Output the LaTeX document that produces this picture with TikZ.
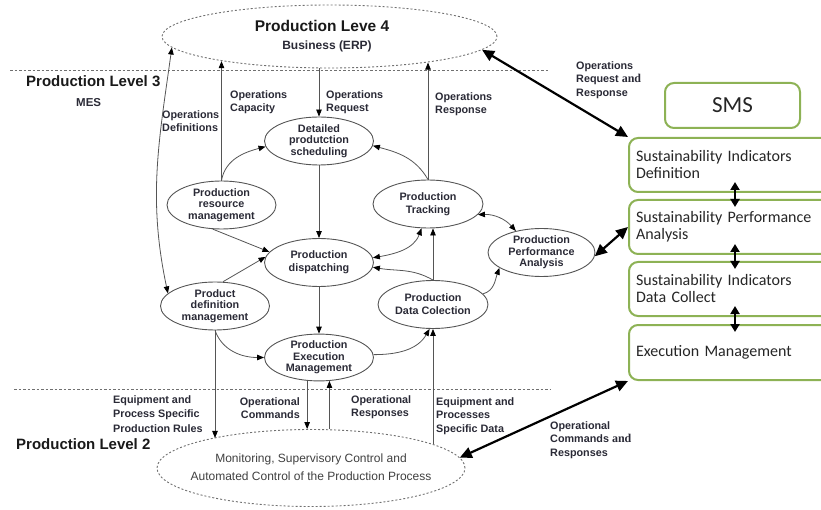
\documentclass[tikz,border=0pt]{standalone}
\usepackage{fontspec}
\setmainfont{Liberation Sans}
\newfontfamily\calfont{Carlito}
\newfontfamily\tmsfont{Liberation Serif}
\usetikzlibrary{shapes.geometric,arrows.meta,calc}
\definecolor{txt}{HTML}{2A2A36}
\definecolor{linec}{HTML}{555555}
\definecolor{dotc}{HTML}{707070}
\definecolor{smsgreen}{HTML}{8DB255}
\tikzset{
  ell/.style={ellipse, draw=linec, line width=0.9pt, inner sep=0pt, align=center, text=txt,
    font=\bfseries\fontsize{10.8}{11.5}\selectfont, minimum width=109pt, minimum height=48pt},
  twoline/.style={font=\bfseries\fontsize{10.8}{13}\selectfont},
  dell/.style={ellipse, draw=dotc, line width=0.9pt, dash pattern=on 2pt off 2pt, inner sep=0pt},
  lab/.style={anchor=north west, inner sep=0pt, align=left, text=txt,
    font=\bfseries\fontsize{10.8}{13.5}\selectfont},
  lvl/.style={anchor=base west, inner sep=0pt, text=black!90, font=\bfseries\fontsize{15}{16}\selectfont},
  arr/.style={draw=linec, line width=0.8pt, -{Triangle[length=7pt,width=5.5pt,color=black]}},
  darr/.style={draw=linec, line width=0.8pt, {Triangle[length=7pt,width=5.5pt,color=black]}-{Triangle[length=7pt,width=5.5pt,color=black]}},
  bigarr/.style={draw=black, line width=2.2pt, {Triangle[length=12pt,width=11pt]}-{Triangle[length=12pt,width=11pt]}},
  sarr/.style={draw=black, line width=2.2pt, {Triangle[length=8pt,width=9pt]}-{Triangle[length=8pt,width=9pt]}},
  gbox/.style={draw=smsgreen, line width=2pt, rounded corners=9pt, fill=white},
  sbox/.style={gbox, text width=220pt, inner sep=7pt, align=left, minimum height=54pt, text=black!85,
    font=\calfont\fontsize{16}{17}\selectfont},
  sepline/.style={draw=dotc, line width=0.9pt, dash pattern=on 2.5pt off 2pt},
}
\begin{document}
\begin{tikzpicture}[x=1pt,y=-1pt]
\useasboundingbox (0,0) rectangle (821,510);
\clip (0,0) rectangle (821,510);

% level separators
\coordinate (s1a) at (10,70.5);
\coordinate (s1b) at (548,70.5);
\coordinate (s2a) at (14,389);
\coordinate (s2b) at (550,389);
\draw[sepline] (s1a) -- (s1b);
\draw[sepline] (s2a) -- (s2b);

% level 4 and level 2 ellipses
\node[dell, minimum width=335pt, minimum height=63pt] (erp) at (329.5,36.5) {};
\node[anchor=base, inner sep=0pt, text=black!90, font=\bfseries\fontsize{15.5}{16}\selectfont] (erpt) at (322,32) {Production Leve 4};
\node[anchor=base, inner sep=0pt, text=txt, font=\bfseries\fontsize{12}{13}\selectfont] (erps) at (327,50) {Business (ERP)};

\node[dell, minimum width=308pt, minimum height=77pt] (lvl2) at (311,468) {};
\node[align=center, inner sep=0pt, text=black!75, font=\fontsize{12}{17.5}\selectfont] (lvl2t) at (311,467)
  {Monitoring, Supervisory Control and\\Automated Control of the Production Process};

% level titles
\node[lvl] (l3) at (26,87) {Production Level 3};
\node[lvl, font=\bfseries\fontsize{11.5}{12}\selectfont, text=txt] (mes) at (76,107) {MES};
\node[lvl] (l2) at (16,449) {Production Level 2};

% activity ellipses
\node[ell] (sched) at (319,141) {Detailed\\produtction\\scheduling};
\node[ell] (res) at (221.5,205) {Production\\resource\\management};
\node[ell, twoline, minimum width=110pt] (track) at (428,204) {Production\\Tracking};
\node[ell, twoline] (disp) at (319,262.5) {Production\\dispatching};
\node[ell, minimum width=107pt] (perf) at (541.5,252.5) {Production\\Performance\\Analysis};
\node[ell] (pdef) at (215,306) {Product\\definition\\management};
\node[ell, twoline, minimum width=110pt] (dcol) at (433,304.5) {Production\\Data Colection};
\node[ell, minimum height=45pt] (exec) at (319,357.5) {Production\\Execution\\Management};

% SMS boxes
\node[gbox, minimum width=135pt, minimum height=45pt, text=black!85, font=\calfont\fontsize{23}{25}\selectfont] (sms) at (732.5,105.5) {SMS};
\node[sbox] (b1) at (746,165) {Sustainability Indicators\\Definition};
\node[sbox] (b2) at (746,227) {Sustainability Performance\\Analysis};
\node[sbox] (b3) at (746,289) {Sustainability Indicators\\Data Collect};
\node[sbox, minimum height=55pt] (b4) at (746,352.5) {Execution Management};

% labels
\node[lab] (lOR) at (326,90) {Operations\\Request};
\node[lab] (lOC) at (230,90) {Operations\\Capacity};
\node[lab] (lOD) at (162,110) {Operations\\Definitions};
\node[lab] (lORs) at (435,92) {Operations\\Response};
\node[lab] (lORR) at (576,61) {Operations\\Request {\tmsfont\bfseries\fontsize{12}{13}\selectfont and}\\Response};
\node[lab, font=\bfseries\fontsize{10.8}{14.5}\selectfont] (lEq) at (113,395) {Equipment and\\Process Specific\\Production Rules};
\node[lab, anchor=north east, align=right] (lOCm) at (300,397) {Operational\\Commands};
\node[lab] (lOpR) at (351,395) {Operational\\Responses};
\node[lab] (lEqD) at (436,397) {Equipment and\\Processes\\Specific Data};
\node[lab] (lOCR) at (550,421) {Operational\\Commands {\tmsfont\bfseries\fontsize{12}{13}\selectfont and}\\Responses};

% connectors level 4
\draw[arr] (sched.north |- erp.south) -- (sched.north);
\draw[arr] (res.north) -- (res.north |- erp.193);
\draw[arr] (track.north) -- (track.north |- erp.345);
\draw[darr] (erp.184) to[out=-98,in=102] (pdef.165);

% internal connectors
\draw[arr] (res.north) to[out=80,in=195] (sched.186);
\draw[arr] (track.north) to[out=120,in=-15] (sched.-5);
\draw[arr] (sched.south) -- (disp.north);
\draw[arr] (res.250) -- (disp.168);
\draw[arr] (pdef.72) -- (disp.174);
\draw[darr] (disp.5) to[out=10,in=-110] (track.255);
\draw[arr] (dcol.north) to[out=150,in=-10] (disp.-5);
\draw[arr] (dcol.north) -- (dcol.north |- track.south);
\draw[darr] (track.-12) to[bend left=25] (perf.140);
\draw[arr] (dcol.12) to[out=15,in=-110] (perf.200);
\draw[arr] (disp.south) -- (exec.north);
\draw[arr] (pdef.south) to[out=-70,in=180] (exec.180);
\draw[arr] (exec.3) to[out=0,in=-120] (dcol.262);

% connectors level 2
\draw[arr] (pdef.south) -- (pdef.south |- lvl2.163);
\draw[arr] (exec.243) -- (exec.243 |- lvl2.north);
\draw[arr] (exec.294 |- lvl2.north) -- (exec.294);
\draw[arr] (dcol.south |- lvl2.11) -- (dcol.south);

% SMS connectors
\draw[bigarr] (erp.-5) -- (b1.north west);
\draw[bigarr] (perf.-4) -- (b2.west);
\draw[bigarr] (lvl2.4) -- (b4.south west);
\draw[sarr] ($(b1.south)+(-11,-11)$) -- ($(b2.north)+(-11,8)$);
\draw[sarr] ($(b2.south)+(-11,-11)$) -- ($(b3.north)+(-11,8)$);
\draw[sarr] ($(b3.south)+(-11,-11)$) -- ($(b4.north)+(-11,8)$);
\end{tikzpicture}
\end{document}
